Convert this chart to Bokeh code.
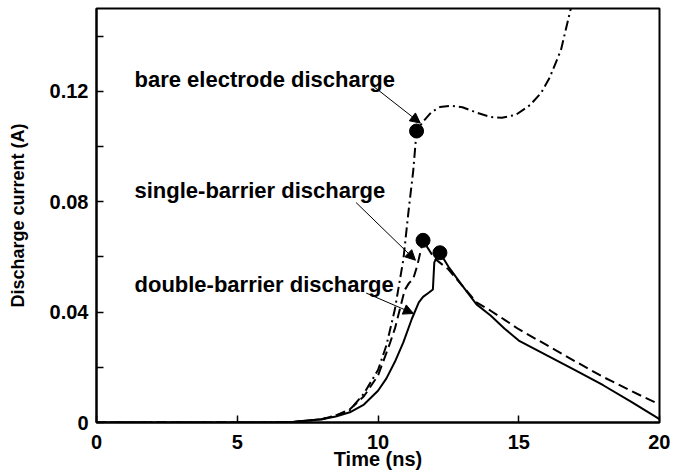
from bokeh.plotting import figure
from bokeh.models import Range1d, FixedTicker, Arrow, NormalHead, Label
from bokeh.embed import file_html
from bokeh.resources import INLINE

FONT = "Liberation Sans"

# ---- data ----
time_double = [0, 6.0, 7.0, 8.0, 8.5, 9.0, 9.5, 10.0, 10.3, 10.6, 10.9, 11.2, 11.45, 11.6,
               11.8, 11.95, 12.0, 12.1, 12.2, 12.5, 13.0, 13.5, 14.0, 14.5, 15.0, 16.0,
               17.0, 18.0, 19.0, 20.0]
cur_double = [0, 0, 0.0003, 0.0012, 0.0022, 0.0037, 0.0065, 0.0115, 0.016, 0.022, 0.029,
              0.0375, 0.0435, 0.0455, 0.047, 0.0482, 0.058, 0.060, 0.0615, 0.0565, 0.0495,
              0.0428, 0.0388, 0.034, 0.0297, 0.0243, 0.019, 0.0135, 0.0075, 0.0012]

time_single = [0, 6.0, 7.0, 8.0, 8.5, 9.0, 9.5, 10.0, 10.4, 10.6, 10.8, 10.95, 11.1, 11.25,
               11.4, 11.5, 11.6, 12.0, 12.5, 13.0, 13.5, 14.0, 14.5, 15.0, 16.0, 17.0,
               18.0, 19.0, 20.0]
cur_single = [0, 0, 0.0002, 0.0012, 0.0025, 0.0048, 0.0095, 0.017, 0.028, 0.034, 0.042,
              0.048, 0.0505, 0.052, 0.057, 0.0615, 0.066, 0.0595, 0.0555, 0.0495, 0.0435,
              0.0405, 0.0372, 0.0338, 0.028, 0.0222, 0.0165, 0.0114, 0.0065]

time_bare = [0, 6.0, 7.0, 8.0, 8.5, 9.0, 9.5, 10.0, 10.3, 10.6, 10.9, 11.1, 11.25, 11.37,
             11.6, 11.9, 12.2, 12.6, 13.0, 13.5, 14.0, 14.4, 14.9, 15.4, 15.8, 16.1, 16.5,
             16.85, 17.0]
cur_bare = [0, 0, 0.0002, 0.0012, 0.0025, 0.0045, 0.0105, 0.019, 0.028, 0.041, 0.059,
            0.078, 0.091, 0.1056, 0.109, 0.1125, 0.1143, 0.1148, 0.1142, 0.1123, 0.1107,
            0.1104, 0.1115, 0.115, 0.1195, 0.125, 0.135, 0.15, 0.157]

peak_time = [11.37, 11.6, 12.2]
peak_cur = [0.1056, 0.066, 0.0615]

label_texts = ["bare electrode discharge", "single-barrier discharge", "double-barrier discharge"]
label_x = [1.35, 1.35, 1.35]
label_y = [0.1242, 0.0840, 0.0500]
arrow_x_start = [9.8, 9.22, 9.58]
arrow_y_start = [0.1221, 0.0797, 0.0469]
arrow_x_end = [11.5, 11.33, 11.26]
arrow_y_end = [0.1085, 0.0588, 0.0395]

x_ticks = [0, 5, 10, 15, 20]
y_ticks = [0, 0.04, 0.08, 0.12]
y_minor_ticks = [0.02, 0.06, 0.10, 0.14]
y_tick_labels = ["0", "0.04", "0.08", "0.12"]

# ---- figure ----
p = figure(width=670, height=472, x_range=Range1d(0, 20), y_range=Range1d(0, 0.15),
           output_backend="svg", toolbar_location=None,
           min_border_left=96, min_border_top=8, min_border_right=11, min_border_bottom=0)
p.grid.visible = False
p.outline_line_color = "black"
p.outline_line_width = 2
p.background_fill_color = "white"
p.border_fill_color = "white"

for ax in (p.xaxis[0], p.yaxis[0]):
    ax.axis_line_width = 2
    ax.axis_line_color = "black"
    ax.major_tick_in = 7
    ax.major_tick_out = 0
    ax.major_tick_line_width = 1.5
    ax.major_tick_line_color = "black"
    ax.minor_tick_line_width = 1.5
    ax.minor_tick_line_color = "black"
    ax.major_label_text_font = FONT
    ax.major_label_text_font_style = "bold"
    ax.major_label_text_font_size = "20px"
    ax.major_label_text_color = "black"
    ax.axis_label_text_font = FONT
    ax.axis_label_text_font_style = "bold"
    ax.axis_label_text_color = "black"

xa = p.xaxis[0]
xa.ticker = FixedTicker(ticks=x_ticks, minor_ticks=[])
xa.minor_tick_in = 0
xa.minor_tick_out = 0
xa.major_label_standoff = 12
xa.axis_label = "Time (ns)"
xa.axis_label_text_font_size = "20px"
xa.axis_label_standoff = -4

ya = p.yaxis[0]
ya.ticker = FixedTicker(ticks=y_ticks, minor_ticks=y_minor_ticks)
ya.minor_tick_in = 7
ya.minor_tick_out = 0
ya.major_label_overrides = {t: s for t, s in zip(y_ticks, y_tick_labels)}
ya.major_label_standoff = 8
ya.axis_label = "Discharge current (A)"
ya.axis_label_text_font_size = "18px"
ya.axis_label_standoff = 19

# ---- curves ----
p.line(time_double, cur_double, line_color="black", line_width=2)
p.line(time_single, cur_single, line_color="black", line_width=2, line_dash="10 5")
p.line(time_bare, cur_bare, line_color="black", line_width=2, line_dash="10 4 2 4")
p.scatter(peak_time, peak_cur, size=14, fill_color="black", line_color="black")

# ---- annotations ----
for xs, ys, xe, ye in zip(arrow_x_start, arrow_y_start, arrow_x_end, arrow_y_end):
    p.add_layout(Arrow(end=NormalHead(size=10, fill_color="black", line_color="black", line_width=1),
                       x_start=xs, y_start=ys, x_end=xe, y_end=ye,
                       line_color="black", line_width=1))

for t, lx, ly in zip(label_texts, label_x, label_y):
    p.add_layout(Label(x=lx, y=ly, text=t, text_font=FONT, text_font_style="bold",
                       text_font_size="22px", text_color="black", text_baseline="alphabetic"))

open("out.html", "w").write(file_html(p, INLINE))
